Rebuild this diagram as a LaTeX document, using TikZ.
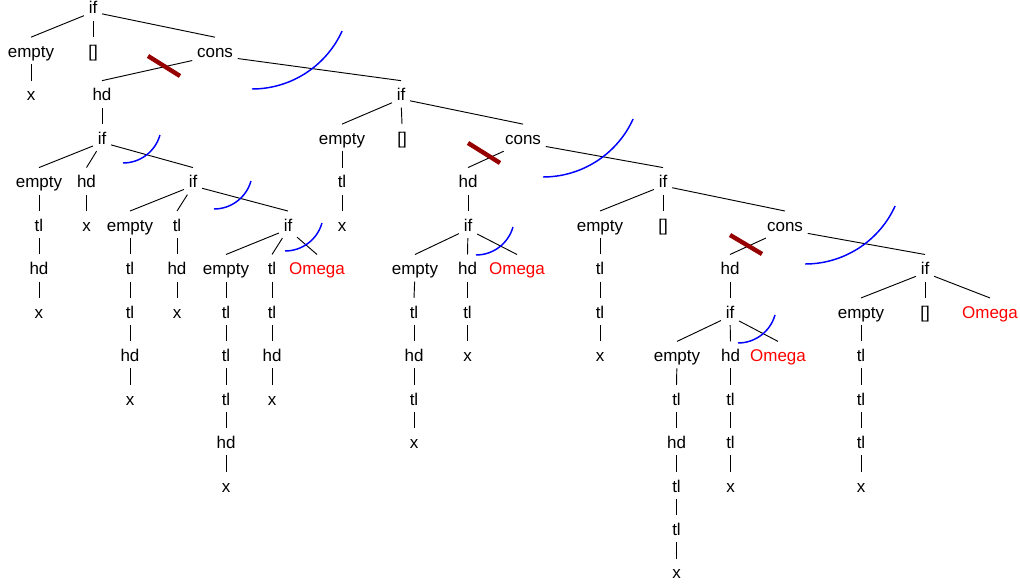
\documentclass[tikz,border=0pt]{standalone}
\usepackage{fontspec}
\setmainfont{Liberation Sans}
\begin{document}
\begin{tikzpicture}[x=0.75pt,y=-0.75pt,
  t/.style={anchor=base, font=\fontsize{12.75}{15}\selectfont, inner xsep=3.4pt, inner ysep=1.9pt, text height=6pt, text depth=3pt},
  om/.style={t, text=red},
  edge/.style={draw=black, line width=0.7pt},
  cut/.style={draw={rgb,255:red,150;green,0;blue,0}, line width=3.3pt},
  marc/.style={draw=blue, line width=1.1pt}]
\useasboundingbox (0,0) rectangle (1020,585);
% row baselines: 14 + 43.46 k
\node[t] (n0) at (93,14) {if};
\node[t] (n1) at (31,57.46) {empty};
\node[t] (n2) at (93,57.46) {[]};
\node[t] (n3) at (215,57.46) {cons};
\node[t] (n1a) at (31,100.92) {x};
\node[t] (n3a) at (102,100.92) {hd};
\node[t] (n3b) at (401,100.92) {if};
\node[t] (A) at (102,144.38) {if};
\node[t] (A1) at (39,187.84) {empty};
\node[t] (A2) at (86.5,187.84) {hd};
\node[t] (A3) at (193,187.84) {if};
\node[t] (A1a) at (39,231.3) {tl};
\node[t] (A1b) at (39,274.76) {hd};
\node[t] (A1c) at (39,318.22) {x};
\node[t] (A2a) at (86.5,231.3) {x};
\node[t] (B1) at (130,231.3) {empty};
\node[t] (B2) at (177,231.3) {tl};
\node[t] (B3) at (288,231.3) {if};
\node[t] (B1a) at (130,274.76) {tl};
\node[t] (B1b) at (130,318.22) {tl};
\node[t] (B1c) at (130,361.68) {hd};
\node[t] (B1d) at (130,405.14) {x};
\node[t] (B2a) at (177,274.76) {hd};
\node[t] (B2b) at (177,318.22) {x};
\node[t] (C1) at (226,274.76) {empty};
\node[t] (C2) at (272,274.76) {tl};
\node[om] (C3) at (317,274.76) {Omega};
\node[t] (C1a) at (226,318.22) {tl};
\node[t] (C1b) at (226,361.68) {tl};
\node[t] (C1c) at (226,405.14) {tl};
\node[t] (C1d) at (226,448.6) {hd};
\node[t] (C1e) at (226,492.06) {x};
\node[t] (C2a) at (272,318.22) {tl};
\node[t] (C2b) at (272,361.68) {hd};
\node[t] (C2c) at (272,405.14) {x};
\node[t] (D1) at (342,144.38) {empty};
\node[t] (D2) at (402,144.38) {[]};
\node[t] (D3) at (523,144.38) {cons};
\node[t] (D1a) at (342,187.84) {tl};
\node[t] (D1b) at (342,231.3) {x};
\node[t] (E1) at (468,187.84) {hd};
\node[t] (E2) at (663,187.84) {if};
\node[t] (E1a) at (468,231.3) {if};
\node[t] (F1) at (415,274.76) {empty};
\node[t] (F2) at (467.5,274.76) {hd};
\node[om] (F3) at (517,274.76) {Omega};
\node[t] (F1a) at (414,318.22) {tl};
\node[t] (F1b) at (414,361.68) {hd};
\node[t] (F1c) at (414,405.14) {tl};
\node[t] (F1d) at (414,448.6) {x};
\node[t] (F2a) at (467.5,318.22) {tl};
\node[t] (F2b) at (467.5,361.68) {x};
\node[t] (G1) at (600,231.3) {empty};
\node[t] (G2) at (663,231.3) {[]};
\node[t] (G3) at (785,231.3) {cons};
\node[t] (G1a) at (600,274.76) {tl};
\node[t] (G1b) at (600,318.22) {tl};
\node[t] (G1c) at (600,361.68) {x};
\node[t] (H1) at (730,274.76) {hd};
\node[t] (H2) at (925,274.76) {if};
\node[t] (H1a) at (730,318.22) {if};
\node[t] (I1) at (677,361.68) {empty};
\node[t] (I2) at (730.5,361.68) {hd};
\node[om] (I3) at (778,361.68) {Omega};
\node[t] (I1a) at (676.5,405.14) {tl};
\node[t] (I1b) at (676.5,448.6) {hd};
\node[t] (I1c) at (676.5,492.06) {tl};
\node[t] (I1d) at (676.5,535.52) {tl};
\node[t] (I1e) at (676.5,578.98) {x};
\node[t] (I2a) at (730.5,405.14) {tl};
\node[t] (I2b) at (730.5,448.6) {tl};
\node[t] (I2c) at (730.5,492.06) {x};
\node[t] (J1) at (861,318.22) {empty};
\node[t] (J2) at (925,318.22) {[]};
\node[om] (J3) at (990,318.22) {Omega};
\node[t] (J1a) at (861,361.68) {tl};
\node[t] (J1b) at (861,405.14) {tl};
\node[t] (J1c) at (861,448.6) {tl};
\node[t] (J1d) at (861,492.06) {x};
% edges
\foreach \p/\c in {n0/n1,n0/n2,n0/n3,n1/n1a,n3/n3a,n3/n3b,n3a/A,
  A/A1,A/A2,A/A3,A1/A1a,A1a/A1b,A1b/A1c,A2/A2a,
  A3/B1,A3/B2,A3/B3,B1/B1a,B1a/B1b,B1b/B1c,B1c/B1d,B2/B2a,B2a/B2b,
  B3/C1,B3/C2,B3/C3,C1/C1a,C1a/C1b,C1b/C1c,C1c/C1d,C1d/C1e,C2/C2a,C2a/C2b,C2b/C2c,
  n3b/D1,n3b/D2,n3b/D3,D1/D1a,D1a/D1b,D3/E1,D3/E2,E1/E1a,
  E1a/F1,E1a/F2,E1a/F3,F1/F1a,F1a/F1b,F1b/F1c,F1c/F1d,F2/F2a,F2a/F2b,
  E2/G1,E2/G2,E2/G3,G1/G1a,G1a/G1b,G1b/G1c,G3/H1,G3/H2,H1/H1a,
  H1a/I1,H1a/I2,H1a/I3,I1/I1a,I1a/I1b,I1b/I1c,I1c/I1d,I1d/I1e,I2/I2a,I2a/I2b,I2b/I2c,
  H2/J1,H2/J2,H2/J3,J1/J1a,J1a/J1b,J1b/J1c,J1c/J1d}
  \draw[edge] (\p) -- ([yshift=7.1pt]\c.north);
% cut marks
\draw[cut] (148,56) -- (180,76);
\draw[cut] (468,143) -- (500,163);
\draw[cut] (730,235) -- (762,254);
% big arcs
\draw[marc] (252,89) arc[start angle=-90, end angle=-24.5, radius=74.25pt];
\draw[marc] (543,177) arc[start angle=-90, end angle=-24.5, radius=74.25pt];
\draw[marc] (805,264) arc[start angle=-90, end angle=-24.5, radius=74.25pt];
% small arcs
\draw[marc] (123,163) arc[start angle=-90, end angle=-15.7, radius=28.8pt];
\draw[marc] (214,209) arc[start angle=-90, end angle=-15.7, radius=28.8pt];
\draw[marc] (285,251) arc[start angle=-90, end angle=-15.7, radius=28.8pt];
\draw[marc] (476,255) arc[start angle=-90, end angle=-15.7, radius=28.8pt];
\draw[marc] (738,343) arc[start angle=-90, end angle=-15.7, radius=28.8pt];
\end{tikzpicture}
\end{document}
